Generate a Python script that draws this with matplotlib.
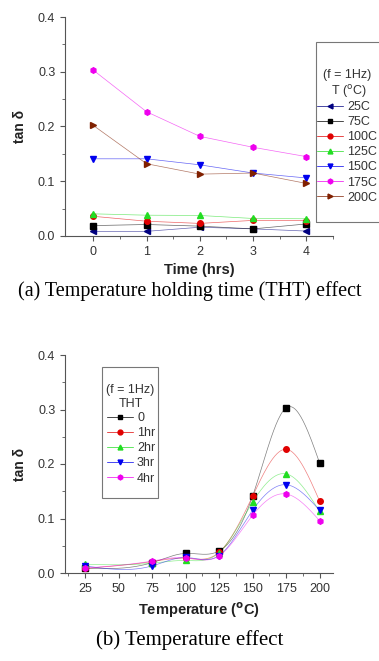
import matplotlib
matplotlib.use('Agg')
import matplotlib.pyplot as plt
from matplotlib.patches import Rectangle
import numpy as np

# tan delta vs holding time, one row per temperature
hours = [0, 1, 2, 3, 4]
temps = [25, 75, 100, 125, 150, 175, 200]
temp_labels = ['25C', '75C', '100C', '125C', '150C', '175C', '200C']
tan_25 = [0.0085, 0.0085, 0.016, 0.013, 0.009]
tan_75 = [0.019, 0.021, 0.018, 0.013, 0.022]
tan_100 = [0.036, 0.027, 0.023, 0.0285, 0.028]
tan_125 = [0.0405, 0.038, 0.0375, 0.032, 0.0315]
tan_150 = [0.141, 0.141, 0.130, 0.115, 0.106]
tan_175 = [0.303, 0.227, 0.182, 0.162, 0.145]
tan_200 = [0.202, 0.132, 0.113, 0.115, 0.096]
tht_labels = ['0', '1hr', '2hr', '3hr', '4hr']

rows = [tan_25, tan_75, tan_100, tan_125, tan_150, tan_175, tan_200]
tcolors = ['#000080', 'black', '#e00000', '#22dd22', '#0000ee', '#ee00ee', '#802000']
tmarkers = ['<', 's', 'o', '^', 'v', 'h', '>']
hcolors = ['black', '#e00000', '#22dd22', '#0000ee', '#ee00ee']
hmarkers = ['s', 'o', '^', 'v', 'h']

plt.rcParams['font.family'] = ['Liberation Sans', 'DejaVu Sans']
plt.rcParams['font.size'] = 9

W, H = 379, 661


def fx(px):
    return px / W


def fy(py):
    return 1 - py / H


def spline(x, y, n=200):
    # natural cubic spline, like Origin's spline connect
    x = np.asarray(x, float); y = np.asarray(y, float)
    m = len(x); h = np.diff(x)
    A = np.zeros((m, m)); b = np.zeros(m)
    A[0, 0] = A[-1, -1] = 1
    for i in range(1, m - 1):
        A[i, i-1] = h[i-1]; A[i, i] = 2*(h[i-1] + h[i]); A[i, i+1] = h[i]
        b[i] = 6*((y[i+1]-y[i])/h[i] - (y[i]-y[i-1])/h[i-1])
    M = np.linalg.solve(A, b)
    xs = np.linspace(x[0], x[-1], n)
    k = np.clip(np.searchsorted(x, xs) - 1, 0, m - 2)
    t0 = x[k+1] - xs; t1 = xs - x[k]
    ys = (M[k]*t0**3 + M[k+1]*t1**3)/(6*h[k]) + (y[k]/h[k] - M[k]*h[k]/6)*t0 \
        + (y[k+1]/h[k] - M[k+1]*h[k]/6)*t1
    return xs, ys


def style(ax):
    ax.spines['top'].set_visible(False)
    ax.spines['right'].set_visible(False)
    for s in ax.spines.values():
        s.set_color('#555555'); s.set_linewidth(0.8)
    ax.tick_params(which='both', direction='out', colors='#555555', labelcolor='#333333')
    ax.tick_params(which='major', length=3.5)
    ax.tick_params(which='minor', length=2)
    ax.set_ylim(0, 0.4)
    ax.set_yticks([0.0, 0.1, 0.2, 0.3, 0.4])
    ax.set_yticks([0.05, 0.15, 0.25, 0.35], minor=True)
    ax.set_ylabel('tan δ', fontweight='bold', fontsize=10, color='#222222', labelpad=8)


def key(handles, labels, x, y):
    leg = fig.legend(handles, labels, loc='upper left', bbox_to_anchor=(fx(x), fy(y)),
                     frameon=False, borderpad=0, borderaxespad=0,
                     handlelength=2.1, handletextpad=0.3, labelspacing=0.25,
                     fontsize=9)
    for t in leg.get_texts():
        t.set_color('#333333')
    return leg


fig = plt.figure(figsize=(W/100, H/100), dpi=100)

# (a) holding time
ax1 = fig.add_axes([fx(65), fy(236), (333-65)/W, 219/H])
style(ax1)
for vals, lab, c, mk in zip(rows, temp_labels, tcolors, tmarkers):
    ax1.plot(hours, vals, color=c, lw=0.5, alpha=0.6)
    ax1.plot(hours, vals, ls='none', marker=mk, color=c, ms=4)
ax1.set_xlim(-0.53, 4.5)
ax1.set_xticks(hours)
ax1.set_xticks([0.5, 1.5, 2.5, 3.5, 4.5], minor=True)
ax1.set_xlabel('Time (hrs)', fontweight='bold', fontsize=10.5, color='#222222')

fig.add_artist(Rectangle((fx(316), fy(222)), fx(80), 180/H, transform=fig.transFigure,
                         fill=False, ec='#777777', lw=0.8))
fig.text(fx(347), fy(75), '(f = 1Hz)', ha='center', va='center', color='#333333')
fig.text(fx(349), fy(92), 'T ($^{\\mathrm{o}}$C)', ha='center', va='center', color='#333333')
handles = [plt.Line2D([], [], color=c, marker=mk, ms=3.5, lw=0.5)
           for c, mk in zip(tcolors, tmarkers)]
key(handles, temp_labels, 317, 101)

fig.text(0.5, fy(291), '(a) Temperature holding time (THT) effect',
         ha='center', va='center', family='Liberation Serif', fontsize=14.5)

# (b) temperature
ax2 = fig.add_axes([fx(65), fy(573), (333-65)/W, 218/H])
style(ax2)
for j, c in enumerate(hcolors):
    col = [r[j] for r in rows]
    xs, ys = spline(temps, col)
    ax2.plot(xs, ys, color=c, lw=0.5, alpha=0.5)
for j, (c, mk) in enumerate(zip(hcolors, hmarkers)):
    col = [r[j] for r in rows]
    ax2.plot(temps, col, ls='none', marker=mk, color=c, ms=4)
ax2.set_xlim(10, 210)
ax2.set_xticks([25, 50, 75, 100, 125, 150, 175, 200])
ax2.set_xticks(np.arange(12.5, 210, 25), minor=True)
ax2.set_xlabel('Temperature ($^{\\mathbf{o}}$C)', fontweight='bold', fontsize=10.5,
               color='#222222')

fig.add_artist(Rectangle((fx(102), fy(498)), fx(56), 131/H, transform=fig.transFigure,
                         fill=False, ec='#777777', lw=0.8))
fig.text(fx(130), fy(390), '(f = 1Hz)', ha='center', va='center', color='#333333')
fig.text(fx(131), fy(404), 'THT', ha='center', va='center', color='#333333')
handles2 = [plt.Line2D([], [], color=c, marker=mk, ms=3.5, lw=0.5)
            for c, mk in zip(hcolors, hmarkers)]
key(handles2, tht_labels, 107, 412)

fig.text(0.5, fy(640), '(b) Temperature effect',
         ha='center', va='center', family='Liberation Serif', fontsize=15)

fig.savefig('out.png', dpi=100)
